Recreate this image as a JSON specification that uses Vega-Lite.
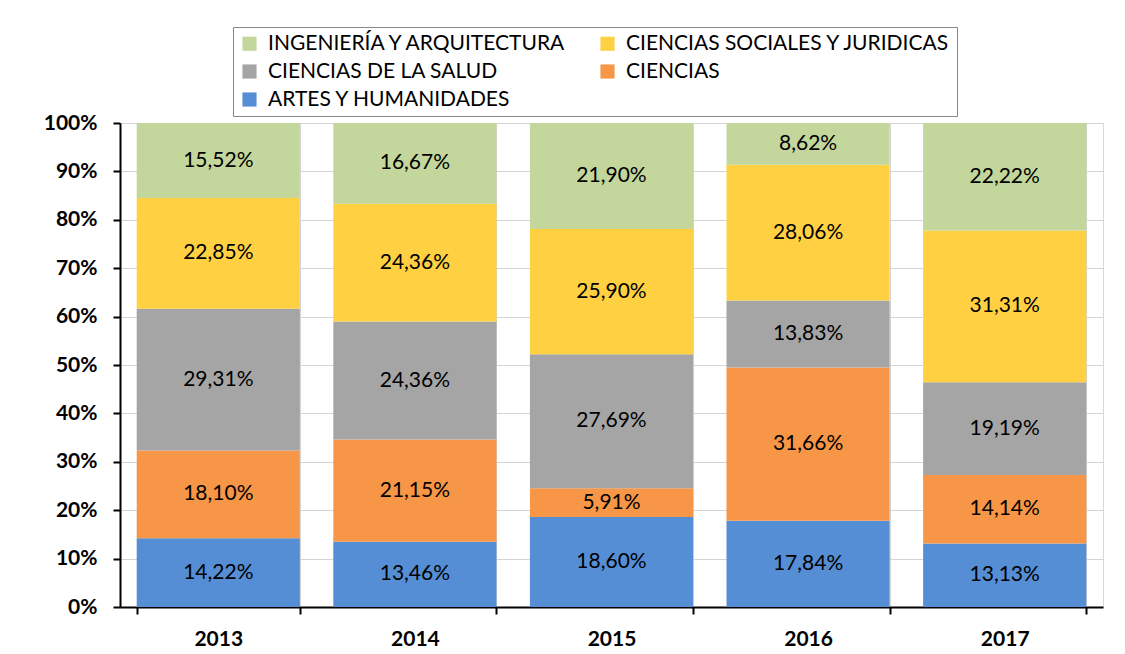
{
  "$schema": "https://vega.github.io/schema/vega-lite/v6.json",
  "width": 983,
  "height": 484,
  "autosize": "none",
  "padding": {"left": 120, "top": 123, "right": 22, "bottom": 47},
  "background": "white",
  "config": {
    "view": {"stroke": "#D9D9D9", "strokeWidth": 1},
    "font": "Lato",
    "locale": {"number": {"decimal": ",", "thousands": ".", "grouping": [3], "currency": ["", " €"]}}
  },
  "data": {"values": [
    {"year": "2013", "area": "ARTES Y HUMANIDADES", "v": 0.1422},
    {"year": "2013", "area": "CIENCIAS", "v": 0.1810},
    {"year": "2013", "area": "CIENCIAS DE LA SALUD", "v": 0.2931},
    {"year": "2013", "area": "CIENCIAS SOCIALES Y JURIDICAS", "v": 0.2285},
    {"year": "2013", "area": "INGENIERÍA Y ARQUITECTURA", "v": 0.1552},
    {"year": "2014", "area": "ARTES Y HUMANIDADES", "v": 0.1346},
    {"year": "2014", "area": "CIENCIAS", "v": 0.2115},
    {"year": "2014", "area": "CIENCIAS DE LA SALUD", "v": 0.2436},
    {"year": "2014", "area": "CIENCIAS SOCIALES Y JURIDICAS", "v": 0.2436},
    {"year": "2014", "area": "INGENIERÍA Y ARQUITECTURA", "v": 0.1667},
    {"year": "2015", "area": "ARTES Y HUMANIDADES", "v": 0.1860},
    {"year": "2015", "area": "CIENCIAS", "v": 0.0591},
    {"year": "2015", "area": "CIENCIAS DE LA SALUD", "v": 0.2769},
    {"year": "2015", "area": "CIENCIAS SOCIALES Y JURIDICAS", "v": 0.2590},
    {"year": "2015", "area": "INGENIERÍA Y ARQUITECTURA", "v": 0.2190},
    {"year": "2016", "area": "ARTES Y HUMANIDADES", "v": 0.1784},
    {"year": "2016", "area": "CIENCIAS", "v": 0.3166},
    {"year": "2016", "area": "CIENCIAS DE LA SALUD", "v": 0.1383},
    {"year": "2016", "area": "CIENCIAS SOCIALES Y JURIDICAS", "v": 0.2806},
    {"year": "2016", "area": "INGENIERÍA Y ARQUITECTURA", "v": 0.0862},
    {"year": "2017", "area": "ARTES Y HUMANIDADES", "v": 0.1313},
    {"year": "2017", "area": "CIENCIAS", "v": 0.1414},
    {"year": "2017", "area": "CIENCIAS DE LA SALUD", "v": 0.1919},
    {"year": "2017", "area": "CIENCIAS SOCIALES Y JURIDICAS", "v": 0.3131},
    {"year": "2017", "area": "INGENIERÍA Y ARQUITECTURA", "v": 0.2222}
  ]},
  "encoding": {
    "x": {
      "field": "year", "type": "nominal",
      "scale": {"paddingInner": 0.17, "paddingOuter": 0.085},
      "axis": {
        "title": null, "labelAngle": 0, "tickBand": "extent",
        "grid": true, "gridColor": "#D4D4D4", "gridWidth": 1,
        "ticks": true, "tickColor": "black", "tickSize": 7, "tickWidth": 2,
        "domainColor": "black", "domainWidth": 2,
        "labelFont": "Lato", "labelFontWeight": "bold", "labelFontSize": 21, "labelColor": "black",
        "labelPadding": 14
      }
    },
    "y": {
      "field": "v", "type": "quantitative", "stack": "zero",
      "scale": {"domain": [0, 1], "nice": false},
      "axis": {
        "title": null, "values": [0, 0.1, 0.2, 0.3, 0.4, 0.5, 0.6, 0.7, 0.8, 0.9, 1], "format": ".0%",
        "grid": true, "gridColor": "#D4D4D4", "gridWidth": 1,
        "ticks": true, "tickColor": "black", "tickSize": 7, "tickWidth": 2,
        "domainColor": "black", "domainWidth": 2,
        "labelFont": "Lato", "labelFontWeight": "bold", "labelFontSize": 21, "labelColor": "black",
        "labelPadding": 16
      }
    },
    "order": {"field": "area", "sort": "ascending"}
  },
  "layer": [
    {
      "mark": {"type": "bar"},
      "encoding": {
        "color": {
          "field": "area", "type": "nominal",
          "scale": {
            "domain": ["INGENIERÍA Y ARQUITECTURA", "CIENCIAS SOCIALES Y JURIDICAS", "CIENCIAS DE LA SALUD", "CIENCIAS", "ARTES Y HUMANIDADES"],
            "range": ["#C3D69B", "#FFD142", "#A5A5A5", "#F79646", "#558ED5"]
          },
          "legend": {
            "title": null, "orient": "none", "legendX": 113, "legendY": -96,
            "direction": "horizontal",
            "columns": 2, "columnPadding": 29, "rowPadding": 6,
            "symbolType": "square", "symbolSize": 200, "symbolStrokeWidth": 0, "symbolOffset": 0,
            "labelFont": "Lato", "labelFontSize": 21, "labelColor": "black", "labelLimit": 400, "labelOffset": 8,
            "fillColor": "white", "strokeColor": "#888888", "padding": 6
          }
        }
      }
    },
    {
      "mark": {"type": "text", "font": "Lato", "fontSize": 21, "color": "black"},
      "encoding": {
        "y": {"field": "v", "type": "quantitative", "stack": "zero", "bandPosition": 0.5},
        "text": {"field": "v", "type": "quantitative", "format": ".2%"}
      }
    }
  ]
}
